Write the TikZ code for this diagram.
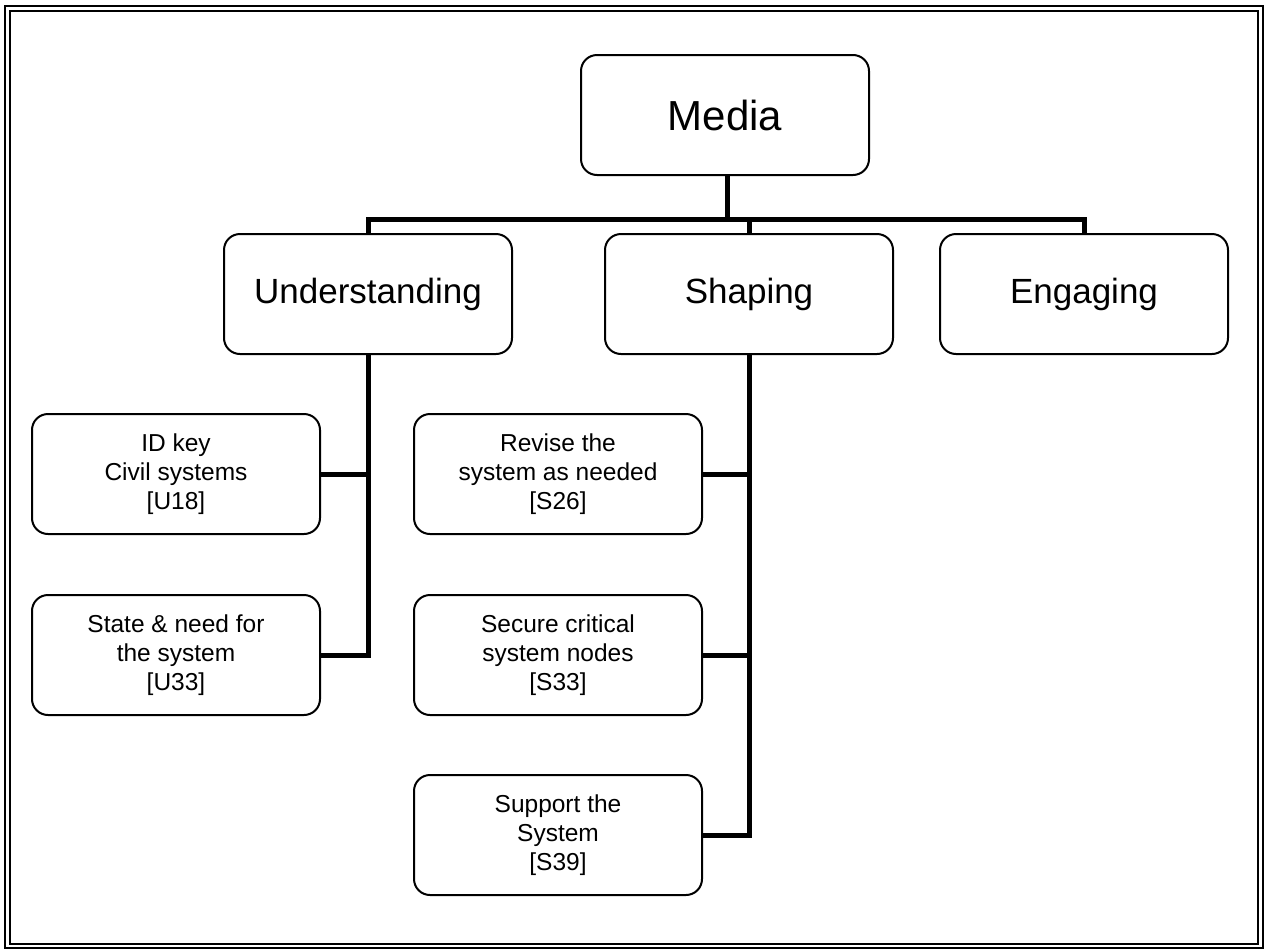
\documentclass[tikz,border=0pt]{standalone}
\usepackage{fontspec}
\setmainfont{Liberation Sans}
\begin{document}
\begin{tikzpicture}[x=1pt,y=-1pt,line join=miter]
        \tikzset{box/.style={draw,line width=2pt,rounded corners=16pt,inner sep=0pt,align=center,
                minimum width=288pt,minimum height=120pt},
            topbox/.style={box,font=\fontsize{42}{48}\selectfont},
            midbox/.style={box,font=\fontsize{35}{40}\selectfont},
            leafbox/.style={box,font=\fontsize{24.5}{29}\selectfont},
            conn/.style={line width=5pt}}
        \useasboundingbox (0,0) rectangle (1266,951);
        \draw[line width=2pt] (5,6) rectangle (1263,948);
        \draw[line width=1.8pt] (10,11) rectangle (1258,944);
        % boxes
        \node[topbox] (media) at (725,115) {Media};
        \node[midbox] (und) at (368,294) {Understanding};
        \node[midbox] (shp) at (749,294) {Shaping};
        \node[midbox] (eng) at (1084,294) {Engaging};
        \node[leafbox] (idkey) at (176,474) {ID key\\Civil systems\\{[U18]}};
        \node[leafbox] (state) at (176,655) {State \& need for\\the system\\{[U33]}};
        \node[leafbox] (revise) at (558,474) {Revise the\\system as needed\\{[S26]}};
        \node[leafbox] (secure) at (558,655) {Secure critical\\system nodes\\{[S33]}};
        \node[leafbox] (support) at (558,835) {Support the\\System\\{[S39]}};
        % connectors
        \coordinate (bus) at (727,219);
        \draw[conn] (media.south -| bus) -- (bus);
        \draw[conn] (und.north) -- (und.north |- bus) -- (eng.north |- bus) -- (eng.north);
        \draw[conn] (shp.north) -- (shp.north |- bus);
        \draw[conn] (und.south) |- (state.east);
        \draw[conn] (idkey.east) -- (idkey.east -| und.south);
        \draw[conn] (shp.south) |- (support.east);
        \foreach \n in {revise,secure}
        \draw[conn] (\n.east) -- (\n.east -| shp.south);
    \end{tikzpicture}
\end{document}
